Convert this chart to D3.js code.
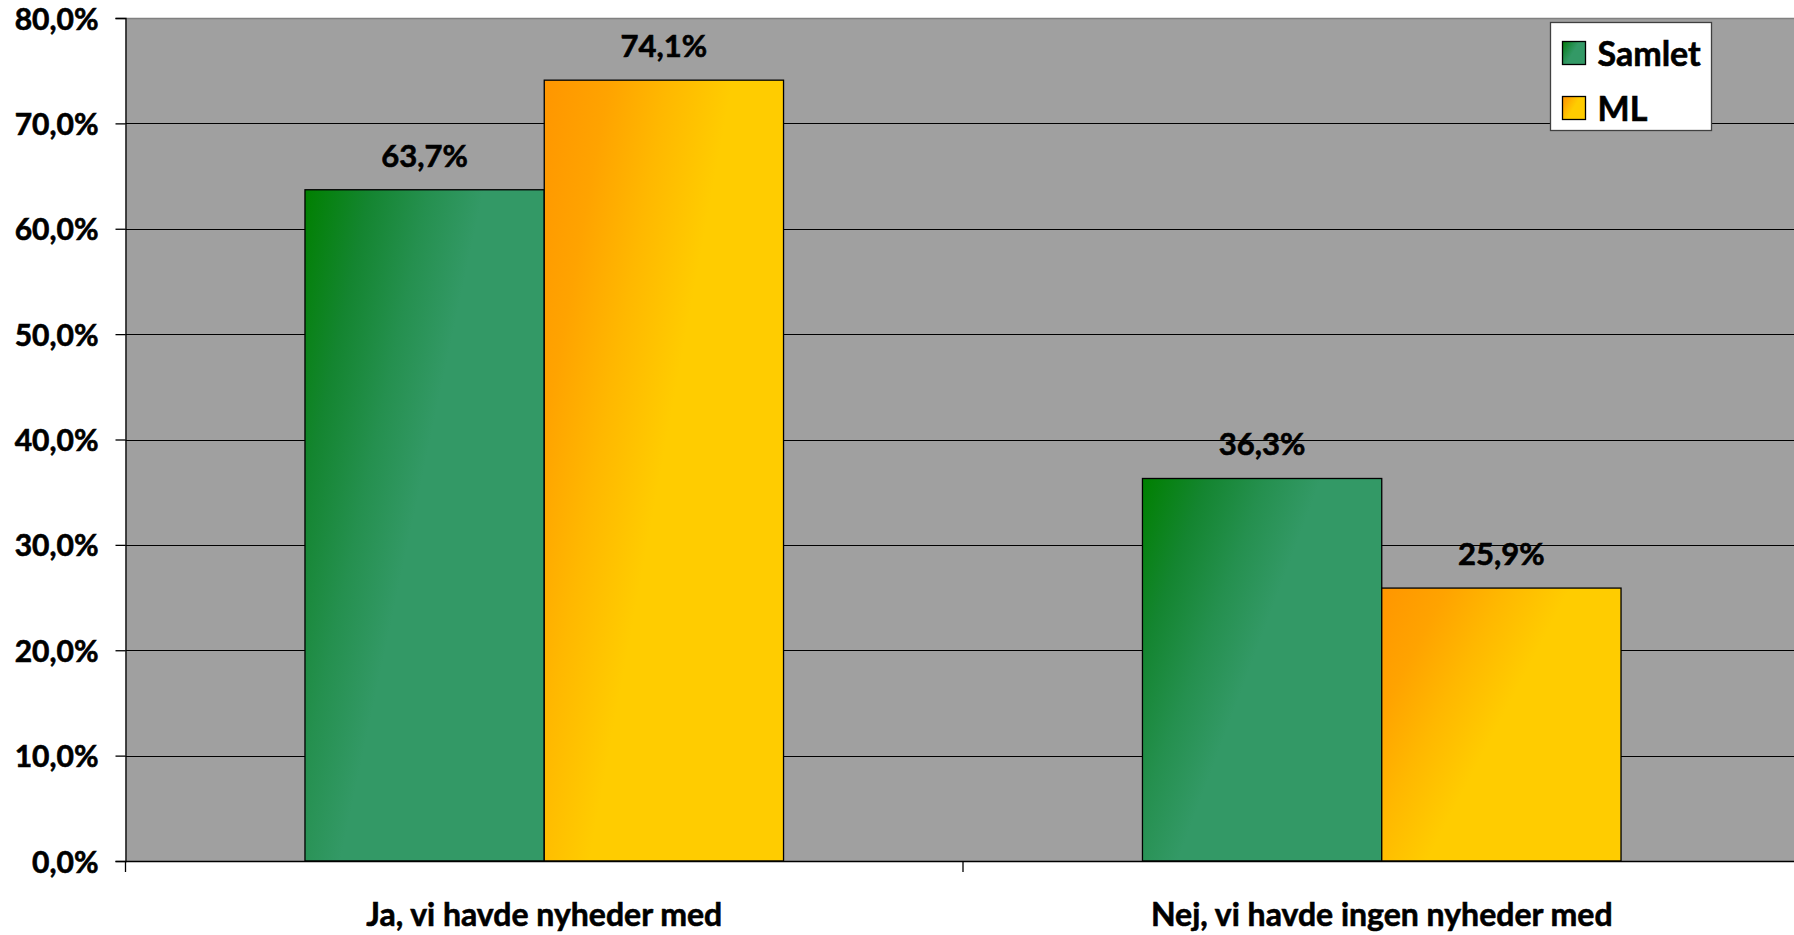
<!DOCTYPE html>
<html><head><meta charset="utf-8">
<script src="https://cdn.jsdelivr.net/npm/d3@7"></script>
<style>
html,body{margin:0;padding:0;background:#fff;overflow:hidden;}
text{font-family:Lato,"Noto Sans",sans-serif;font-weight:bold;fill:#000;stroke:#000;stroke-width:0.6px;}
</style></head>
<body>
<svg id="chart" width="1794" height="935"></svg>
<script>
const categories = ["Ja, vi havde nyheder med", "Nej, vi havde ingen nyheder med"];
const seriesNames = ["Samlet", "ML"];
const samletValues = [63.7, 36.3];
const mlValues = [74.1, 25.9];
const yTicks = [0, 10, 20, 30, 40, 50, 60, 70, 80];
const yTickLabels = ["0,0%", "10,0%", "20,0%", "30,0%", "40,0%", "50,0%", "60,0%", "70,0%", "80,0%"];
const valueLabels = [["63,7%", "36,3%"], ["74,1%", "25,9%"]];

const seriesValues = [samletValues, mlValues];
const gradStops = [
  [[0, "#008000"], [0.2, "#148530"], [0.38, "#25904f"], [0.55, "#339966"], [1, "#339966"]],
  [[0, "#FF9600"], [0.2, "#FFA300"], [0.38, "#FFB800"], [0.58, "#FFCC00"], [1, "#FFCC00"]]
];

const svg = d3.select("#chart");
const plotLeft = 125.5, plotRight = 1800.5, plotTop = 18, plotBottom = 861;

const x = d3.scaleBand().domain(categories).range([plotLeft, plotRight]).padding(0);
const y = d3.scaleLinear().domain([0, 80]).range([plotBottom, plotTop]);
const barW = x.bandwidth() / 3.5;
const xs = d3.scaleBand().domain(seriesNames).range([0, 2 * barW]).padding(0);

const defs = svg.append("defs");
gradStops.forEach((stops, i) => {
  const g = defs.append("linearGradient").attr("id", "grad" + i)
    .attr("x1", 0).attr("y1", 0).attr("x2", 1).attr("y2", 0.6);
  stops.forEach(s => g.append("stop").attr("offset", s[0]).attr("stop-color", s[1]));
});

// plot area
svg.append("rect").attr("x", plotLeft).attr("y", plotTop)
  .attr("width", plotRight - plotLeft).attr("height", plotBottom - plotTop)
  .attr("fill", "#A0A0A0");

// gridlines
svg.append("g").selectAll("line").data(yTicks.filter(d => d > 0 && d < 80)).join("line")
  .attr("x1", plotLeft).attr("x2", plotRight)
  .attr("y1", d => Math.round(y(d)) + 0.5).attr("y2", d => Math.round(y(d)) + 0.5)
  .attr("stroke", "#000").attr("stroke-width", 1);
svg.append("line").attr("x1", plotLeft).attr("x2", plotRight)
  .attr("y1", plotTop + 0.5).attr("y2", plotTop + 0.5)
  .attr("stroke", "#808080").attr("stroke-width", 1.5);

// bars
const groups = svg.append("g").selectAll("g").data(seriesNames).join("g");
groups.each(function(name, si) {
  d3.select(this).selectAll("rect").data(categories).join("rect")
    .attr("x", c => x(c) + x.bandwidth() / 2 - barW + xs(name))
    .attr("y", (c, ci) => y(seriesValues[si][ci]))
    .attr("width", barW)
    .attr("height", (c, ci) => y(0) - y(seriesValues[si][ci]))
    .attr("fill", "url(#grad" + si + ")")
    .attr("stroke", "#000").attr("stroke-width", 1.3);
  d3.select(this).selectAll("text").data(categories).join("text")
    .attr("x", c => x(c) + x.bandwidth() / 2 - barW + xs(name) + barW / 2)
    .attr("y", (c, ci) => y(seriesValues[si][ci]) - 23)
    .attr("text-anchor", "middle").attr("font-size", 31)
    .text((c, ci) => valueLabels[si][ci]);
});

// y axis
const yAxis = d3.axisLeft(y).tickValues(yTicks).tickSize(10).tickFormat((d, i) => yTickLabels[i]);
const yg = svg.append("g").attr("transform", `translate(${plotLeft},0)`).call(yAxis);
yg.select(".domain").attr("stroke", "#000").attr("stroke-width", 1.3);
yg.selectAll(".tick line").attr("stroke", "#000").attr("stroke-width", 1.3);
yg.selectAll(".tick text").attr("font-size", 30).attr("x", -27).attr("dy", null).attr("y", 11)
  .style("font-family", "Lato").style("font-weight", "bold").attr("fill", "#000");

// x axis
const xAxis = d3.axisBottom(x).tickSize(0).tickFormat(d => d);
const xg = svg.append("g").attr("transform", `translate(0,${plotBottom})`).call(xAxis);
xg.select(".domain").attr("stroke", "#000").attr("stroke-width", 1.3);
xg.selectAll(".tick text").attr("font-size", 32).attr("y", 65).attr("dy", null)
  .style("font-family", "Lato").style("font-weight", "bold").attr("fill", "#000");
// category boundary ticks
const boundaries = categories.map(c => x(c)).concat([plotRight]);
xg.append("g").selectAll("line").data(boundaries).join("line")
  .attr("x1", d => d).attr("x2", d => d).attr("y1", 0).attr("y2", 11)
  .attr("stroke", "#000").attr("stroke-width", 1.3);

// legend
const lg = svg.append("g").attr("transform", "translate(1550.5,22.5)");
lg.append("rect").attr("width", 161).attr("height", 108).attr("fill", "#fff")
  .attr("stroke", "#404040").attr("stroke-width", 1.3);
seriesNames.forEach((name, i) => {
  lg.append("rect").attr("x", 12).attr("y", 19 + i * 55).attr("width", 23).attr("height", 23)
    .attr("fill", "url(#grad" + i + ")").attr("stroke", "#000").attr("stroke-width", 1.3);
  lg.append("text").attr("x", 47).attr("y", 43 + i * 55).attr("font-size", 34).text(name);
});
</script>
</body></html>
